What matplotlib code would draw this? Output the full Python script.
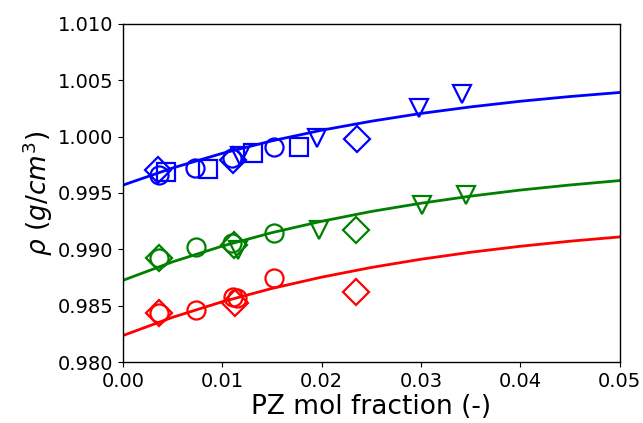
import numpy as np
import matplotlib
matplotlib.use("Agg")
import matplotlib.pyplot as plt
from matplotlib.ticker import FormatStrFormatter

# fitted density curves, sampled every 0.005 in PZ mol fraction
x_fit = [0.0, 0.005, 0.010, 0.015, 0.020, 0.025, 0.030, 0.035, 0.040, 0.045, 0.050]
rho_fit_blue = [0.99570, 0.99722, 0.99852, 0.99963, 1.00057, 1.00137,
                1.00206, 1.00264, 1.00314, 1.00356, 1.00392]
rho_fit_green = [0.98725, 0.98889, 0.99029, 0.99148, 0.99249, 0.99336,
                 0.99409, 0.99472, 0.99526, 0.99571, 0.99610]
rho_fit_red = [0.98235, 0.98397, 0.98535, 0.98653, 0.98753, 0.98839,
               0.98912, 0.98974, 0.99027, 0.99072, 0.99110]

# measured points, grouped by colour and marker
blue_D_x = [0.0035, 0.0111, 0.0236]
blue_D_y = [0.99705, 0.99793, 0.99979]
blue_o_x = [0.0036, 0.0073, 0.0110, 0.0152]
blue_o_y = [0.99660, 0.99725, 0.99808, 0.99905]
blue_s_x = [0.0043, 0.0086, 0.0131, 0.0177]
blue_s_y = [0.99685, 0.99712, 0.99852, 0.99905]
blue_v_x = [0.0118, 0.0195, 0.0298, 0.0341]
blue_v_y = [0.99830, 0.99985, 1.00250, 1.00380]

green_D_x = [0.0036, 0.0112, 0.0235]
green_D_y = [0.98925, 0.99038, 0.99172]
green_o_x = [0.0036, 0.0074, 0.0110, 0.0152]
green_o_y = [0.98925, 0.99023, 0.99053, 0.99142]
green_v_x = [0.0116, 0.0197, 0.0301, 0.0345]
green_v_y = [0.98994, 0.99172, 0.99393, 0.99482]

red_D_x = [0.0036, 0.0113, 0.0235]
red_D_y = [0.98432, 0.98521, 0.98624]
red_o_x = [0.0036, 0.0074, 0.0111, 0.0115, 0.0152]
red_o_y = [0.98432, 0.98462, 0.98580, 0.98565, 0.98743]

x_ticks = [0.00, 0.01, 0.02, 0.03, 0.04, 0.05]
y_ticks = [0.980, 0.985, 0.990, 0.995, 1.000, 1.005, 1.010]

fig = plt.figure(figsize=(6.43, 4.23), dpi=100)
ax = fig.add_axes([0.1913, 0.1442, 0.7722, 0.7991])

ms = 13
mew = 1.6

ax.plot(x_fit, rho_fit_blue, color="blue", lw=2)
ax.plot(x_fit, rho_fit_green, color="green", lw=2)
ax.plot(x_fit, rho_fit_red, color="red", lw=2)

groups = [
    (blue_D_x, blue_D_y, "D", "blue"),
    (blue_o_x, blue_o_y, "o", "blue"),
    (blue_s_x, blue_s_y, "s", "blue"),
    (blue_v_x, blue_v_y, "v", "blue"),
    (green_D_x, green_D_y, "D", "green"),
    (green_o_x, green_o_y, "o", "green"),
    (green_v_x, green_v_y, "v", "green"),
    (red_D_x, red_D_y, "D", "red"),
    (red_o_x, red_o_y, "o", "red"),
]
for gx, gy, mk, c in groups:
    ax.plot(gx, gy, ls="none", marker=mk, ms=ms, mfc="none", mec=c, mew=mew)

ax.set_xlim(0, 0.05)
ax.set_ylim(0.980, 1.010)
ax.set_xticks(x_ticks)
ax.set_yticks(y_ticks)
ax.xaxis.set_major_formatter(FormatStrFormatter("%.2f"))
ax.yaxis.set_major_formatter(FormatStrFormatter("%.3f"))
ax.tick_params(labelsize=14)
for sp in ax.spines.values():
    sp.set_linewidth(1.0)

ax.set_xlabel("PZ mol fraction (-)", fontsize=19, labelpad=2)
ax.set_ylabel(r"$\rho\ (g/cm^3)$", fontsize=19, labelpad=2)

fig.savefig("out.png", dpi=100)
